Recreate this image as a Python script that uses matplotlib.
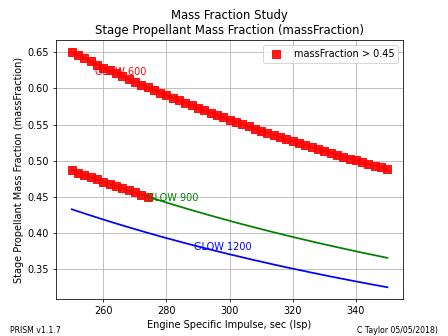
import matplotlib
matplotlib.use("Agg")
import matplotlib.pyplot as plt

isp = list(range(250, 352, 2))

glow_600 = [0.6500, 0.6456, 0.6413, 0.6370, 0.6328, 0.6287, 0.6246, 0.6206, 0.6166, 0.6127,
            0.6088, 0.6050, 0.6013, 0.5976, 0.5939, 0.5903, 0.5868, 0.5832, 0.5798, 0.5763,
            0.5730, 0.5696, 0.5663, 0.5631, 0.5599, 0.5567, 0.5536, 0.5505, 0.5474, 0.5444,
            0.5414, 0.5384, 0.5355, 0.5326, 0.5298, 0.5270, 0.5242, 0.5214, 0.5187, 0.5160,
            0.5134, 0.5107, 0.5081, 0.5056, 0.5030, 0.5005, 0.4980, 0.4955, 0.4931, 0.4907,
            0.4883]
glow_900 = [0.4870, 0.4837, 0.4805, 0.4773, 0.4741, 0.4710, 0.4680, 0.4650, 0.4620, 0.4591,
            0.4562, 0.4533, 0.4505, 0.4477, 0.4450, 0.4423, 0.4396, 0.4370, 0.4344, 0.4318,
            0.4293, 0.4268, 0.4243, 0.4219, 0.4195, 0.4171, 0.4147, 0.4124, 0.4101, 0.4079,
            0.4056, 0.4034, 0.4012, 0.3991, 0.3969, 0.3948, 0.3927, 0.3907, 0.3886, 0.3866,
            0.3846, 0.3827, 0.3807, 0.3788, 0.3769, 0.3750, 0.3731, 0.3713, 0.3695, 0.3677,
            0.3659]
glow_1200 = [0.4330, 0.4301, 0.4272, 0.4244, 0.4216, 0.4188, 0.4161, 0.4134, 0.4108, 0.4082,
             0.4056, 0.4031, 0.4005, 0.3981, 0.3956, 0.3932, 0.3909, 0.3885, 0.3862, 0.3839,
             0.3817, 0.3795, 0.3773, 0.3751, 0.3730, 0.3708, 0.3688, 0.3667, 0.3647, 0.3626,
             0.3607, 0.3587, 0.3567, 0.3548, 0.3529, 0.3510, 0.3492, 0.3474, 0.3455, 0.3438,
             0.3420, 0.3402, 0.3385, 0.3368, 0.3351, 0.3334, 0.3318, 0.3301, 0.3285, 0.3269,
             0.3253]

series = [("GLOW 600", glow_600, "r"), ("GLOW 900", glow_900, "g"), ("GLOW 1200", glow_1200, "b")]
label_pos = {"GLOW 600": (257.5, 0.623), "GLOW 900": (273.8, 0.448), "GLOW 1200": (288.7, 0.381)}
threshold = 0.45

fig, ax = plt.subplots(figsize=(6.4, 4.8), dpi=70)

hx, hy = [], []
for name, vals, col in series:
    ax.plot(isp, vals, color=col, linewidth=1.8)
    tx, ty = label_pos[name]
    ax.text(tx, ty, name, color=col, va="center", fontsize=10)
    for x, v in zip(isp, vals):
        if v > threshold:
            hx.append(x)
            hy.append(v)

ax.plot(hx, hy, "s", color="red", markersize=8, alpha=0.9, linestyle="none",
        label="massFraction > 0.45")

ax.set_title("Mass Fraction Study\nStage Propellant Mass Fraction (massFraction)", fontsize=12)
ax.set_xlabel("Engine Specific Impulse, sec (Isp)")
ax.set_ylabel("Stage Propellant Mass Fraction (massFraction)")
ax.grid(True)
ax.legend(loc="upper right")

fig.text(0.022, 0.015, "PRISM v1.1.7", fontsize=8, va="center")
fig.text(0.977, 0.015, "C Taylor 05/05/2018)", fontsize=8, va="center", ha="right")

fig.savefig("out.png")
